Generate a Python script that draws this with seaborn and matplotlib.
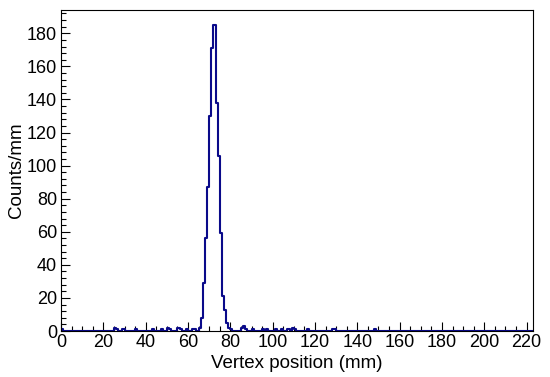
import numpy as np
import pandas as pd
import matplotlib
matplotlib.use("Agg")
import matplotlib.pyplot as plt
import seaborn as sns
from matplotlib.ticker import MultipleLocator

# D A T A  (1 mm bins, left edge in mm -> counts; empty bins omitted)
bin_left = [0, 25, 26, 29, 35, 43, 47, 50, 51, 55, 56, 59, 62, 63,
            65, 66, 67, 68, 69, 70, 71, 72, 73, 74, 75, 76, 77, 78, 79,
            80, 85, 86, 87, 90, 95, 97, 101, 104, 107, 109, 110, 116,
            128, 129, 148]
counts = [1, 2, 1, 1, 1, 1, 1, 2, 1, 2, 1, 1, 1, 1,
          2, 8, 29, 56, 87, 130, 171, 185, 138, 106, 59, 21, 13, 5, 2,
          1, 2, 3, 1, 1, 1, 1, 1, 1, 1, 2, 1, 1,
          1, 1, 1]
x_range = (0, 223)

df = pd.DataFrame({"pos": np.array(bin_left) + 0.5, "n": counts})

sns.set_style("ticks")
plt.rcParams['font.family'] = ['Liberation Sans', 'DejaVu Sans']
plt.rcParams['font.size'] = 13
plt.rcParams['text.color'] = 'black'
plt.rcParams['axes.labelcolor'] = 'black'

fig = plt.figure(figsize=(5.5, 3.77), dpi=100)
ax = fig.add_axes([0.111, 0.122, 0.858, 0.851])

sns.histplot(data=df, x="pos", weights="n", binwidth=1, binrange=x_range,
             element="step", fill=False, color="#0a0a8a", linewidth=1.5, ax=ax)

ax.set_xlim(*x_range)
ax.set_ylim(0, 194)
ax.xaxis.set_major_locator(MultipleLocator(20))
ax.xaxis.set_minor_locator(MultipleLocator(5))
ax.yaxis.set_major_locator(MultipleLocator(20))
ax.yaxis.set_minor_locator(MultipleLocator(4))
ax.tick_params(which='both', direction='in', top=False, right=False, colors='black',
               labelsize=13, width=0.8)
ax.tick_params(which='major', length=6.5)
ax.tick_params(which='minor', length=3.5)
ax.tick_params(axis='x', pad=2)
ax.tick_params(axis='y', pad=3)
for sp in ax.spines.values():
    sp.set_visible(True)
    sp.set_linewidth(0.8)
    sp.set_color('black')

ax.set_xlabel("Vertex position (mm)", fontsize=13.5, labelpad=3, color='black')
ax.set_ylabel("Counts/mm", fontsize=13.5, labelpad=1, color='black')

fig.savefig("out.png", dpi=100)
